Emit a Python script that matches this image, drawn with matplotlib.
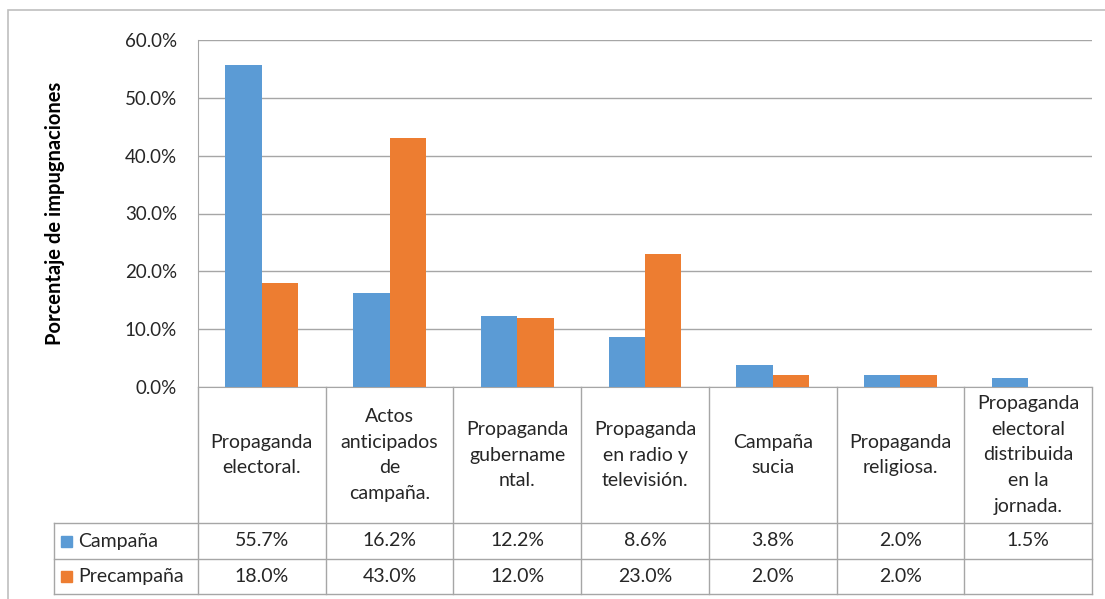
import matplotlib
matplotlib.use("Agg")
import matplotlib.pyplot as plt
import matplotlib.transforms as mtransforms
from matplotlib.patches import Rectangle

categories = [
    "Propaganda\nelectoral.",
    "Actos\nanticipados\nde\ncampaña.",
    "Propaganda\ngubername\nntal.",
    "Propaganda\nen radio y\ntelevisión.",
    "Campaña\nsucia",
    "Propaganda\nreligiosa.",
    "Propaganda\nelectoral\ndistribuida\nen la\njornada.",
]
series_names = ["Campaña", "Precampaña"]
campana = [55.7, 16.2, 12.2, 8.6, 3.8, 2.0, 1.5]
precampana = [18.0, 43.0, 12.0, 23.0, 2.0, 2.0, None]
yticks = [0, 10, 20, 30, 40, 50, 60]

colors = ["#5B9BD5", "#ED7D31"]
grid_c = "#A6A6A6"
line_c = "#A6A6A6"
txt_c = "#262626"

plt.rcParams["font.family"] = ["Lato", "DejaVu Sans"]

W, H = 1105, 599
fig = plt.figure(figsize=(W / 100, H / 100), dpi=100)


def fx(px):
    return px / W


def fy(py):
    return 1 - py / H


# outer chart border
fig.patches.append(Rectangle((fx(8), fy(620)), fx(1120) - fx(8), fy(10) - fy(620),
                             transform=fig.transFigure, fill=False,
                             edgecolor="#BFBFBF", linewidth=1.2))

left, right, top, bottom = 198, 1092, 40, 387
ax = fig.add_axes([fx(left), fy(bottom), fx(right) - fx(left), fy(top) - fy(bottom)])

n = len(categories)
bw = 1 / 3.5
xs = list(range(n))
ax.bar([x - bw / 2 for x in xs], campana, width=bw, color=colors[0], zorder=3)
pre_vals = [v if v is not None else 0 for v in precampana]
ax.bar([x + bw / 2 for x in xs], pre_vals, width=bw, color=colors[1], zorder=3)

ax.set_xlim(-0.5, n - 0.5)
ax.set_ylim(0, 60)
ax.set_yticks(yticks)
ax.set_yticklabels([f"{v:.1f}%" for v in yticks], fontsize=13.5, color=txt_c)
ax.tick_params(axis="y", length=0, pad=15)
ax.set_xticks([])
ax.grid(axis="y", color=grid_c, linewidth=1, zorder=0)
for s in ["top", "right"]:
    ax.spines[s].set_visible(False)
ax.spines["left"].set_color(line_c)
ax.spines["bottom"].set_color(line_c)

fig.text(fx(55), fy(213), "Porcentaje de impugnaciones", rotation=90,
         ha="center", va="center", fontsize=14.5, fontweight="bold", color="black")


# data table below the axis
def ay(py):
    return (bottom - py) / (bottom - top)


tr = mtransforms.blended_transform_factory(ax.transData, ax.transAxes)
px_per_cat = (right - left) / n
leg_left = -0.5 - (left - 54) / px_per_cat
row_y = [ay(523), ay(559), ay(594)]

# horizontal lines
for y in row_y:
    ax.plot([leg_left, n - 0.5], [y, y], transform=tr, color=line_c, lw=1, clip_on=False)
# vertical lines
for i in range(n + 1):
    ax.plot([i - 0.5, i - 0.5], [0, row_y[-1]], transform=tr, color=line_c, lw=1, clip_on=False)
ax.plot([leg_left, leg_left], [row_y[0], row_y[-1]], transform=tr, color=line_c, lw=1, clip_on=False)

# category labels
for i, c in enumerate(categories):
    ax.text(i, (0 + row_y[0]) / 2, c, transform=tr, ha="center", va="center",
            fontsize=14, color=txt_c, linespacing=1.62)

# value rows
for r, (name, vals) in enumerate(zip(series_names, [campana, precampana])):
    yc = (row_y[r] + row_y[r + 1]) / 2
    mx0 = leg_left + 7 / px_per_cat
    ax.add_patch(Rectangle((mx0, yc - 5.5 / (bottom - top)), 11 / px_per_cat, 11 / (bottom - top),
                           transform=tr, color=colors[r], clip_on=False))
    ax.text(leg_left + 24 / px_per_cat, yc, name, transform=tr, ha="left", va="center",
            fontsize=14, color=txt_c)
    for i, v in enumerate(vals):
        if v is None:
            continue
        ax.text(i, yc, f"{v:.1f}%", transform=tr, ha="center", va="center",
                fontsize=14, color=txt_c)

fig.savefig("out.png", dpi=100)
